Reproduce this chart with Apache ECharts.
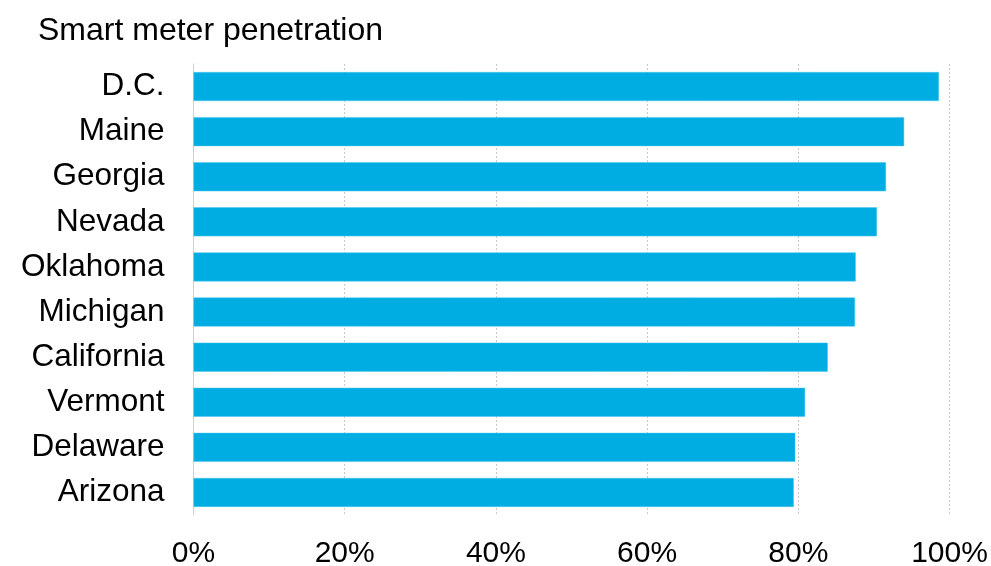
<!DOCTYPE html>
<html>
<head>
<meta charset="utf-8">
<script src="https://cdn.jsdelivr.net/npm/echarts@6/dist/echarts.min.js"></script>
<style>
html,body{margin:0;padding:0;background:#fff;}
#c{width:991px;height:566px;}
</style>
</head>
<body>
<div id="c"></div>
<script>
const categories = ['D.C.', 'Maine', 'Georgia', 'Nevada', 'Oklahoma', 'Michigan', 'California', 'Vermont', 'Delaware', 'Arizona'];
const values = [98.6, 94.0, 91.6, 90.4, 87.6, 87.5, 83.9, 80.9, 79.6, 79.4];
const titleText = 'Smart meter penetration';
const xTicks = [0, 20, 40, 60, 80, 100];

const chart = echarts.init(document.getElementById('c'), null, {renderer: 'canvas'});
const font = '"Liberation Sans", Arial, sans-serif';
chart.setOption({
  animation: false,
  backgroundColor: '#fff',
  title: {
    text: titleText,
    left: 33, top: 10,
    textStyle: {fontFamily: font, fontSize: 32, fontWeight: 'normal', color: '#000'}
  },
  grid: {left: 193.5, right: 41.5, top: 64, bottom: 51, containLabel: false, outerBoundsMode: 'none'},
  xAxis: {
    type: 'value', min: 0, max: 100, interval: 20,
    axisLine: {show: false},
    axisTick: {show: false},
    splitLine: {show: true, lineStyle: {color: '#c8c8c8', type: [2, 2], width: 1}},
    axisLabel: {
      fontFamily: font, fontSize: 30, color: '#000', margin: 24,
      formatter: v => xTicks.includes(v) ? v + '%' : ''
    }
  },
  yAxis: {
    type: 'category', data: categories, inverse: true,
    axisLine: {show: true, lineStyle: {color: '#d0d0d0', width: 1}},
    axisTick: {show: false},
    axisLabel: {fontFamily: font, fontSize: 31.5, color: '#000', margin: 29, padding: [5, 0, 0, 0]}
  },
  series: [{
    type: 'bar', data: values, barWidth: 29,
    itemStyle: {color: '#00ADE3', borderColor: '#4cc6ee', borderWidth: 0.5}
  }]
});
</script>
</body>
</html>
